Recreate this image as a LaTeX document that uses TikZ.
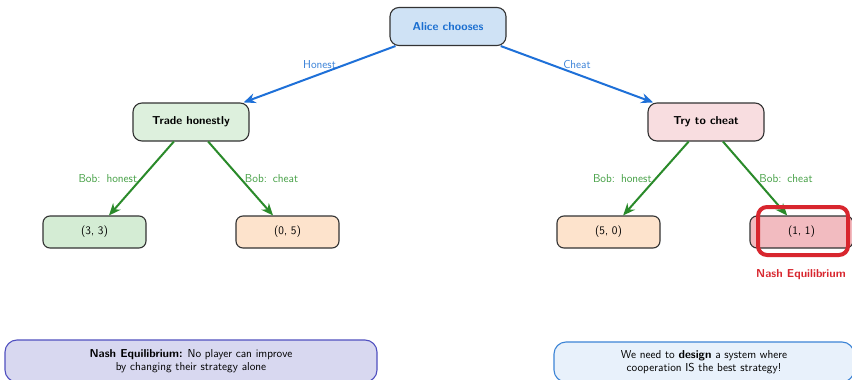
\documentclass[tikz,border=0pt]{standalone}
\usetikzlibrary{arrows.meta}
\definecolor{alicefill}{HTML}{CFE2F5}
\definecolor{alicetext}{HTML}{1A6ED0}
\definecolor{edgeblue}{HTML}{1E70D8}
\definecolor{lblblue}{HTML}{3A82D8}
\definecolor{edgegreen}{HTML}{2A8A2A}
\definecolor{lblgreen}{HTML}{45A045}
\definecolor{greenfill}{HTML}{DDF0DD}
\definecolor{greenleaf}{HTML}{D4ECD4}
\definecolor{pinkfill}{HTML}{F8DDE0}
\definecolor{orangefill}{HTML}{FDE3CC}
\definecolor{redleaf}{HTML}{F2BBC0}
\definecolor{nashred}{HTML}{D8262E}
\definecolor{noteafill}{HTML}{D8D8F0}
\definecolor{noteadraw}{HTML}{5050C0}
\definecolor{notebfill}{HTML}{E8F1FB}
\definecolor{notebdraw}{HTML}{3C84D6}
\definecolor{bordergray}{HTML}{333333}
\newcommand{\bobsp}{\hspace{6pt}}
\tikzset{
  every node/.style={font=\sffamily\fontsize{11.5}{13.5}\selectfont},
  topbox/.style={draw=bordergray, line width=1.1pt, rounded corners=9pt,
    minimum width=116pt, minimum height=38pt, inner sep=0pt},
  leafbox/.style={draw=bordergray, line width=1.1pt, rounded corners=7pt,
    minimum width=103pt, minimum height=32pt, inner sep=0pt},
  bluearrow/.style={draw=edgeblue, line width=2pt, -{Stealth[length=12pt,width=10pt]}},
  greenarrow/.style={draw=edgegreen, line width=2pt, -{Stealth[length=12pt,width=10pt]}},
  bluelbl/.style={text=lblblue, midway},
  greenlbl/.style={text=lblgreen, midway},
  notebox/.style={line width=1.1pt, rounded corners=12pt, align=center,
    inner sep=0pt, minimum height=42pt}
}
\begin{document}
\begin{tikzpicture}[x=1pt, y=-1pt]
\clip (0,0) rectangle (852,380);
\fill[white] (0,0) rectangle (852,380);

\node[topbox, fill=alicefill, text=alicetext, font=\sffamily\bfseries\fontsize{11.5}{13.5}\selectfont] (alice) at (448,26.5) {Alice chooses};
\node[topbox, fill=greenfill, font=\sffamily\bfseries\fontsize{11.5}{13.5}\selectfont] (honest) at (191,122) {Trade honestly};
\node[topbox, fill=pinkfill, font=\sffamily\bfseries\fontsize{11.5}{13.5}\selectfont] (cheat) at (706,122) {Try to cheat};

\node[leafbox, fill=greenleaf] (l33) at (94.5,232) {(3, 3)};
\node[leafbox, fill=orangefill] (l05) at (287.5,232) {(0, 5)};
\node[leafbox, fill=orangefill] (l50) at (608.5,232) {(5, 0)};
\node[leafbox, fill=redleaf] (l11) at (801.5,232) {(1, 1)};

\draw[bluearrow] (alice) -- node[bluelbl, above, yshift=1.5pt] {Honest} (honest);
\draw[bluearrow] (alice) -- node[bluelbl, above, yshift=1.5pt] {Cheat} (cheat);

\draw[greenarrow] (honest) -- node[greenlbl, left] {Bob:\bobsp honest} (l33);
\draw[greenarrow] (honest) -- node[greenlbl, right] {Bob:\bobsp cheat} (l05);
\draw[greenarrow] (cheat) -- node[greenlbl, left] {Bob:\bobsp honest} (l50);
\draw[greenarrow] (cheat) -- node[greenlbl, right] {Bob:\bobsp cheat} (l11);

\node[draw=nashred, line width=4pt, rounded corners=9pt, minimum width=90pt, minimum height=48pt, inner sep=0pt] (hl) at (803,231) {};
\node[text=nashred, font=\sffamily\bfseries\fontsize{11.5}{13.5}\selectfont] (nashlbl) at (801,275) {Nash Equilibrium};

\node[notebox, draw=noteadraw, fill=noteafill, minimum width=372pt] (notea) at (191,361)
  {\textbf{Nash Equilibrium:} No player can improve\\by changing their strategy alone};
\node[notebox, draw=notebdraw, fill=notebfill, minimum width=300pt, minimum height=40pt] (noteb) at (704,362)
  {We need to \textbf{design} a system where\\cooperation IS the best strategy!};
\end{tikzpicture}
\end{document}
